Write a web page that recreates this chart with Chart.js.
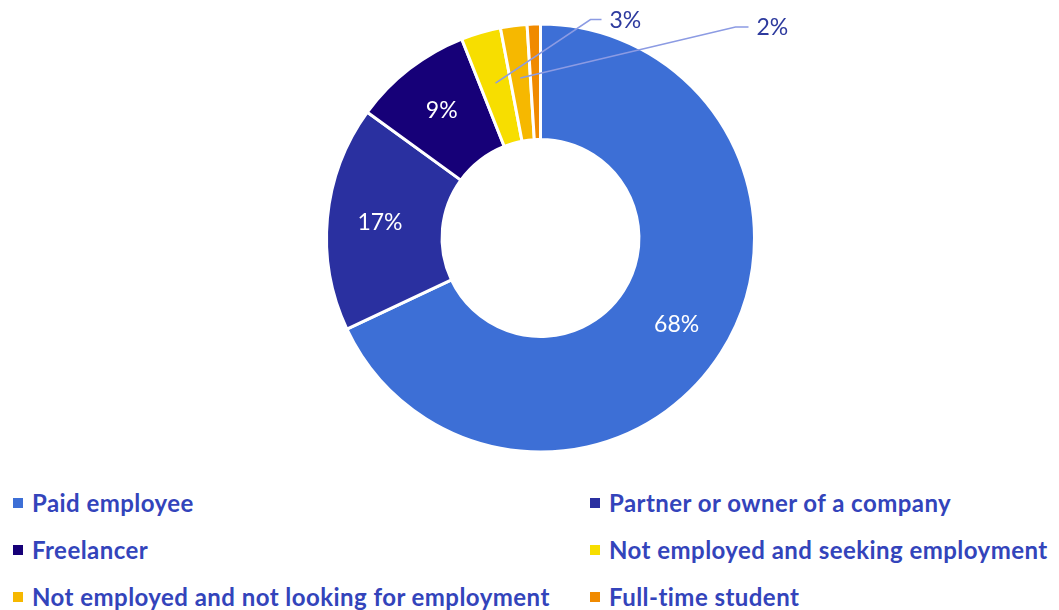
<!DOCTYPE html>
<html>
<head>
<meta charset="utf-8">
<script src="https://cdn.jsdelivr.net/npm/chart.js@4"></script>
<style>
  body { margin: 0; background: #fff; font-family: Lato, "Noto Sans", sans-serif; }
  #wrap { position: relative; width: 1059px; height: 610px; overflow: hidden; }
  #chartBox { position: absolute; left: 0; top: 0; width: 1059px; height: 476px; }
  #legend { position: absolute; left: 0; top: 479px; width: 1059px; display: grid;
            grid-template-columns: 577px 482px; grid-auto-rows: 47px; }
  .item { display: flex; align-items: center; padding-left: 13px; color: #3344bb;
          font-size: 24px; font-weight: 700; letter-spacing: 0.45px; white-space: nowrap; }
  .swatch { width: 10px; height: 10px; margin-right: 9px; flex: none; }
</style>
</head>
<body>
<div id="wrap">
  <div id="chartBox"><canvas id="employment"></canvas></div>
  <div id="legend"></div>
</div>
<script>
const categories = [
    "Paid employee",
    "Partner or owner of a company",
    "Freelancer",
    "Not employed and seeking employment",
    "Not employed and not looking for employment",
    "Full-time student"
];
const shares = [68, 17, 9, 3, 2, 1];
const colors = ["#3d6fd6", "#2a30a0", "#160078", "#f7de00", "#f6b800", "#f08a00"];

// labels for the thin slices sit outside the ring, elbow given relative to the centre
const outsideLabels = {
    3: { elbow: [50, -218.5], run: 11 },
    4: { elbow: [195, -211], run: 13 }
};

const sliceLabels = {
    id: "sliceLabels",
    afterDatasetsDraw(chart) {
        const ctx = chart.ctx;
        const arcs = chart.getDatasetMeta(0).data;
        ctx.save();
        ctx.font = "400 23px Lato, 'Noto Sans', sans-serif";
        ctx.textBaseline = "middle";
        arcs.forEach((arc, i) => {
            const p = arc.getProps(["x", "y", "startAngle", "endAngle", "innerRadius", "outerRadius"], true);
            const mid = (p.startAngle + p.endAngle) / 2;
            const r = (p.innerRadius + p.outerRadius) / 2 + 5;
            const text = shares[i] + "%";
            if (shares[i] >= 5) {
                ctx.fillStyle = "#ffffff";
                ctx.textAlign = "center";
                ctx.fillText(text, p.x + Math.cos(mid) * r, p.y + Math.sin(mid) * r);
            } else if (outsideLabels[i]) {
                const o = outsideLabels[i];
                const sx = p.x + Math.cos(mid) * r;
                const sy = p.y + Math.sin(mid) * r;
                const ex = p.x + o.elbow[0];
                const ey = p.y + o.elbow[1];
                ctx.strokeStyle = "#8c9be3";
                ctx.lineWidth = 1.6;
                ctx.beginPath();
                ctx.moveTo(sx, sy);
                ctx.lineTo(ex, ey);
                ctx.lineTo(ex + o.run, ey);
                ctx.stroke();
                ctx.fillStyle = "#2d3a9e";
                ctx.textAlign = "left";
                ctx.fillText(text, ex + o.run + 8, ey + 1);
            }
        });
        ctx.restore();
    }
};

new Chart(document.getElementById("employment"), {
    type: "doughnut",
    data: {
        labels: categories,
        datasets: [{
            data: shares,
            backgroundColor: colors,
            borderColor: "#ffffff",
            borderWidth: 3,
            hoverOffset: 0
        }]
    },
    options: {
        responsive: true,
        maintainAspectRatio: false,
        animation: false,
        radius: 214,
        cutout: "46%",
        layout: { padding: { left: 22 } },
        plugins: {
            legend: { display: false },
            tooltip: { enabled: false }
        }
    },
    plugins: [sliceLabels]
});

// two-column legend under the ring
const legend = document.getElementById("legend");
categories.forEach((name, i) => {
    const item = document.createElement("div");
    item.className = "item";
    item.innerHTML = `<span class="swatch" style="background:${colors[i]}"></span><span>${name}</span>`;
    legend.appendChild(item);
});
</script>
</body>
</html>
